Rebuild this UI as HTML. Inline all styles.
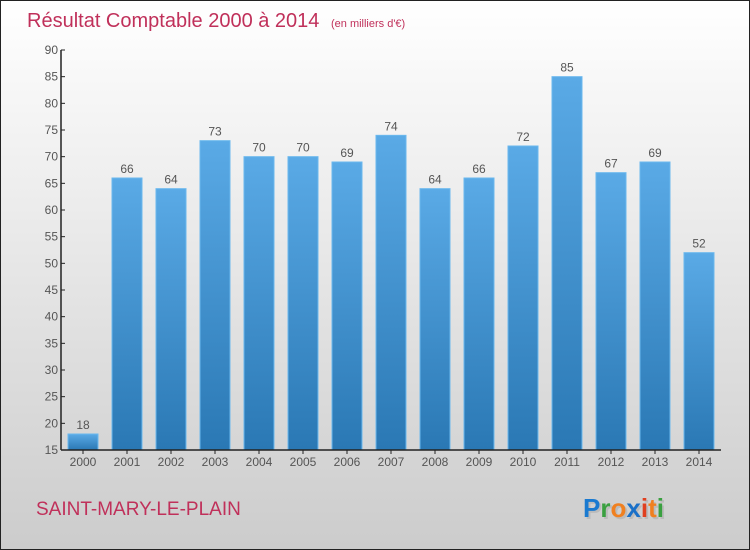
<!DOCTYPE html>
<html><head><meta charset="utf-8"><style>
body{margin:0;}
#c{width:750px;height:550px;position:relative;box-sizing:border-box;border:1px solid #222;background:linear-gradient(#ffffff,#cccccc);font-family:"Liberation Sans",sans-serif;overflow:hidden;}
</style></head><body>
<div id="c">
<svg id="s" width="750" height="550" style="position:absolute;left:-1px;top:-1px">
<defs><linearGradient id="g" x1="0" y1="0" x2="0" y2="1"><stop offset="0" stop-color="#5aaae6"/><stop offset="1" stop-color="#2a78b4"/></linearGradient></defs>
<text x="27" y="27" font-size="20" fill="#c0305a">Résultat Comptable 2000 à 2014 <tspan font-size="11" dx="6">(en milliers d'€)</tspan></text>
<text x="36" y="515" font-size="19" fill="#c0305a">SAINT-MARY-LE-PLAIN</text>
<text x="585" y="519" font-size="26" font-weight="bold" fill="#bbb">Proxiti</text>
<text x="583" y="517" font-size="26" font-weight="bold"><tspan fill="#1a7ad0">P</tspan><tspan fill="#3aa040">r</tspan><tspan fill="#f08020">o</tspan><tspan fill="#1a70c8">x</tspan><tspan fill="#e04020">i</tspan><tspan fill="#f08020">t</tspan><tspan fill="#3aa040">i</tspan></text>
<g id="plot"></g>
</svg>
</div>
<script>
const categories=["2000","2001","2002","2003","2004","2005","2006","2007","2008","2009","2010","2011","2012","2013","2014"];
const values=[18,66,64,73,70,70,69,74,64,66,72,85,67,69,52];
const yTicks=[15,20,25,30,35,40,45,50,55,60,65,70,75,80,85,90];
const NS="http://www.w3.org/2000/svg";
const g=document.getElementById('plot');
const x0=61,x1=721,yTop=50,yBot=450,yMin=15,yMax=90;
const step=(x1-x0)/categories.length;
function y(v){return yBot-(v-yMin)/(yMax-yMin)*(yBot-yTop);}
function xc(i){return x0+step*(i+0.5);}
function mk(t,a){const e=document.createElementNS(NS,t);for(const k in a)e.setAttribute(k,a[k]);g.appendChild(e);return e;}
values.forEach((v,i)=>{
 const r=mk('rect',{x:xc(i)-15,y:y(v),width:30,height:yBot-y(v),fill:'url(#g)',stroke:'#6ab8ee','stroke-width':1});
 
 
 const t=mk('text',{x:xc(i),y:y(v)-5,'font-size':12,fill:'#555','text-anchor':'middle'});
 t.textContent=v;
 
 
 const c=mk('text',{x:xc(i),y:yBot+16,'font-size':12,fill:'#555','text-anchor':'middle'});
 c.textContent=categories[i];
 
 
 const tk=mk('line',{x1:xc(i),x2:xc(i),y1:yBot,y2:yBot+4,stroke:'#222'});
 
 
});
yTicks.forEach(v=>{
 const l=mk('line',{x1:x0,x2:x0+4,y1:y(v),y2:y(v),stroke:'#222'});
 
 
 const t=mk('text',{x:x0-3,y:y(v)+4,'font-size':12,fill:'#555','text-anchor':'end'});
 t.textContent=v;
 
 
});
const ya=mk('line',{x1:x0,x2:x0,y1:yTop,y2:yBot,stroke:'#222','stroke-width':1.5});


const xa=mk('line',{x1:x0,x2:x1,y1:yBot,y2:yBot,stroke:'#222','stroke-width':1.5});


</script>
</body></html>
